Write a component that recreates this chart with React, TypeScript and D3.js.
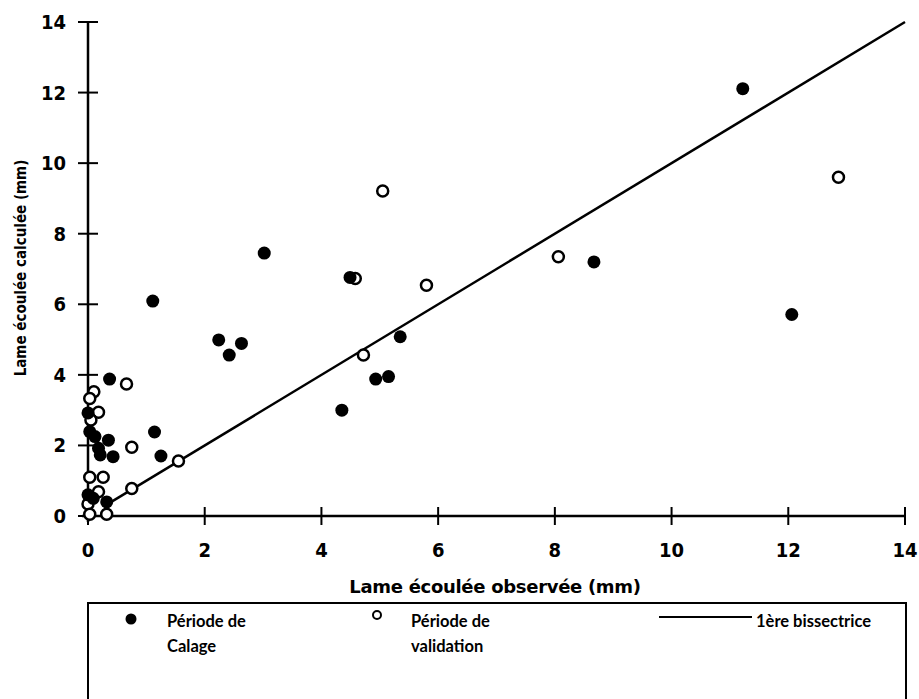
import React from "react";
import * as d3 from "d3";

// Période de Calage (filled)
const calageX = [11.22, 12.06, 8.67, 3.02, 1.11, 2.24, 2.63, 2.42, 4.35, 4.93, 5.15, 5.35, 1.14, 1.25, 4.49, 0.37, 0.0, 0.03, 0.12, 0.35, 0.18, 0.21, 0.43, 0.0, 0.09, 0.32];
const calageY = [12.11, 5.71, 7.2, 7.45, 6.09, 4.99, 4.89, 4.56, 3.0, 3.88, 3.95, 5.08, 2.38, 1.7, 6.76, 3.88, 2.92, 2.39, 2.25, 2.15, 1.92, 1.73, 1.68, 0.6, 0.5, 0.4];
// Période de validation (open)
const validX = [12.86, 8.06, 5.05, 4.58, 5.8, 4.72, 1.55, 0.66, 0.1, 0.03, 0.18, 0.05, 0.75, 0.03, 0.26, 0.18, 0.75, 0.0, 0.03, 0.32];
const validY = [9.6, 7.35, 9.21, 6.73, 6.54, 4.56, 1.56, 3.74, 3.52, 3.33, 2.94, 2.72, 1.95, 1.1, 1.1, 0.69, 0.78, 0.34, 0.05, 0.05];
const bisX = [0.3, 14];
const ticks = [0, 2, 4, 6, 8, 10, 12, 14];

export default function App() {
  const x = d3.scaleLinear().domain([0, 14]).range([88, 905]);
  const y = d3.scaleLinear().domain([0, 14]).range([516, 22]);
  const line = d3.line<number>().x((d) => x(d)).y((d) => y(d));
  const narrow = "'Liberation Sans Narrow', 'DejaVu Sans Condensed', sans-serif";
  const wide = "'DejaVu Sans', sans-serif";
  const lato = "Lato, 'Open Sans', sans-serif";
  return (
    <svg width={919} height={699} style={{ position: "absolute", left: 0, top: 0, background: "#fff" }}>
      {/* axes */}
      <line x1={x(0) - 6} x2={x(14)} y1={y(0)} y2={y(0)} stroke="#000" strokeWidth={2.5} />
      <line x1={x(0)} x2={x(0)} y1={y(14)} y2={y(0) + 6} stroke="#000" strokeWidth={2.5} />
      {ticks.map((t) => (
        <g key={"x" + t}>
          <line x1={x(t)} x2={x(t)} y1={y(0) - 9} y2={y(0) + 9} stroke="#000" strokeWidth={2} />
          <text x={x(t)} y={557} textAnchor="middle" fontSize={20} fontWeight={700} fontFamily={narrow}>{t}</text>
        </g>
      ))}
      {ticks.map((t) => (
        <g key={"y" + t}>
          <line x1={x(0) - 10} x2={x(0) + 10} y1={y(t)} y2={y(t)} stroke="#000" strokeWidth={2} />
          <text x={66} y={y(t) + 7} textAnchor="end" fontSize={20} fontWeight={700} fontFamily={narrow}>{t}</text>
        </g>
      ))}
      <text x={495} y={593} textAnchor="middle" fontSize={18} fontWeight={700} fontFamily={wide} letterSpacing={-0.3}>Lame écoulée observée (mm)</text>
      <text transform={`translate(26,${268}) rotate(-90)`} textAnchor="middle" fontSize={15} fontWeight={700} fontFamily={narrow}>Lame écoulée calculée (mm)</text>
      {/* bisectrice */}
      <path d={line(bisX) || ""} stroke="#000" strokeWidth={2.5} fill="none" />
      {/* points */}
      {validX.map((vx, i) => (
        <circle key={"v" + i} cx={x(vx)} cy={y(validY[i])} r={5.5} fill="#fff" stroke="#000" strokeWidth={2.5} />
      ))}
      {calageX.map((cx, i) => (
        <circle key={"c" + i} cx={x(cx)} cy={y(calageY[i])} r={6.5} fill="#000" />
      ))}
      {/* legend */}
      <rect x={88} y={603} width={818} height={120} fill="none" stroke="#000" strokeWidth={2} />
      <circle cx={131} cy={619} r={5.5} fill="#000" />
      <g fontFamily={lato} fontSize={16.5} fontWeight={700}>
        <text x={167} y={627}>Période de</text>
        <text x={167} y={652}>Calage</text>
        <text x={411} y={627}>Période de</text>
        <text x={411} y={652}>validation</text>
        <text x={756} y={627}>1ère bissectrice</text>
      </g>
      <circle cx={377} cy={615} r={4} fill="#fff" stroke="#000" strokeWidth={2} />
      <line x1={659} x2={752} y1={617} y2={617} stroke="#000" strokeWidth={2} />
    </svg>
  );
}
